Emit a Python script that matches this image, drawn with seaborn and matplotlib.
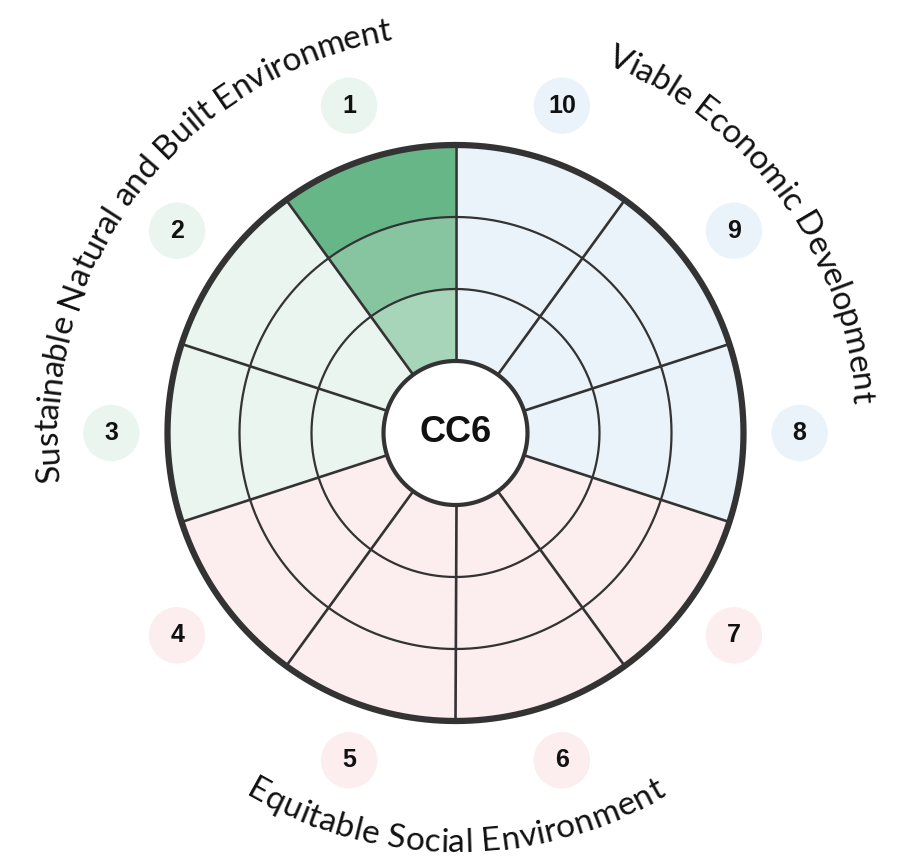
import numpy as np
import seaborn as sns
import matplotlib.pyplot as plt
from matplotlib.font_manager import FontProperties

# wheel data: 10 sectors grouped into three themes, 3 score levels each
sectors = ["1", "2", "3", "4", "5", "6", "7", "8", "9", "10"]
groups = ["env", "env", "env", "soc", "soc", "soc", "soc", "eco", "eco", "eco"]
scores = [3, 0, 0, 0, 0, 0, 0, 0, 0, 0]
levels = [1, 2, 3]
center_label = "CC6"

group_titles = ["Sustainable Natural and Built Environment",
                "Viable Economic Development",
                "Equitable Social Environment"]
title_angles = [143, 36, 270]          # math degrees, centre of each group
title_outward = [True, True, False]

light = {"env": "#ebf5ef", "soc": "#fcedee", "eco": "#ebf3fa"}
shades = {"env": ["#a6d5b9", "#87c5a1", "#66b688"],
          "soc": ["#f5c9cc", "#eea6ab", "#e6828a"],
          "eco": ["#c5dcef", "#9fc4e4", "#78acd8"]}
ink = "#333333"
title_font = ["Lato", "DejaVu Sans"]
num_font = ["Liberation Sans", "DejaVu Sans"]

sns.set_theme(style="white")
plt.rcParams["font.family"] = title_font

fig = plt.figure(figsize=(9.08, 8.66), dpi=100)
ax = fig.add_axes([23.5 / 908, 1 / 866, 864 / 908, 864 / 866], projection="polar")
ax.set_theta_zero_location("N")
ax.set_theta_direction(1)
ax.set_ylim(0, 6)
ax.set_axis_off()

n = len(sectors)
width = 2 * np.pi / n
theta_c = (np.arange(n) + 0.5) * width

# sector cells
for i, (g, s) in enumerate(zip(groups, scores)):
    for lv in levels:
        col = shades[g][lv - 1] if lv <= s else light[g]
        ax.bar(theta_c[i], 1, width=width, bottom=lv, color=col, linewidth=0)

# grid lines
tt = np.linspace(0, 2 * np.pi, 721)
for r in [2, 3]:
    ax.plot(tt, np.full_like(tt, r), color=ink, lw=1.6)
for k in range(n):
    ax.plot([k * width] * 2, [1, 4], color=ink, lw=1.9)
ax.plot(tt, np.full_like(tt, 4), color=ink, lw=4.5)
ax.plot(tt, np.full_like(tt, 1), color=ink, lw=3)

# numbered badges
label_r = 4.78
sns.scatterplot(x=theta_c, y=[label_r] * n, hue=groups, palette=light,
                s=1650, linewidth=0, legend=False, ax=ax, zorder=3)
for t, lab in zip(theta_c, sectors):
    ax.text(t, label_r, lab, ha="center", va="center", fontsize=18,
            fontweight="bold", family=num_font, color="#111111", zorder=4)

ax.text(0, 0, center_label, ha="center", va="center", fontsize=26,
        fontweight="bold", family=num_font, color="#111111")

# curved group titles
renderer = fig.canvas.get_renderer()
px_per_unit = 72.0


def text_w(s, prop):
    bar = renderer.get_text_width_height_descent("|", prop, ismath=False)[0]
    return renderer.get_text_width_height_descent(s + "|", prop, ismath=False)[0] - bar


probe = FontProperties(family=title_font, size=20)
fs = 20 * 625 / text_w(group_titles[0], probe)
prop = FontProperties(family=title_font, size=fs)

r_mid = 408.0
for title, ang, outward in zip(group_titles, title_angles, title_outward):
    total = text_w(title, prop)
    for i, ch in enumerate(title):
        if ch == " ":
            continue
        a = text_w(title[:i], prop) if i else 0.0
        b = text_w(title[:i + 1], prop)
        off = np.degrees(((a + b) / 2 - total / 2) / r_mid)
        if outward:
            phi = ang - off
            rot = phi - 90
            r_base = 398 / px_per_unit
        else:
            phi = ang + off
            rot = phi + 90
            r_base = 419 / px_per_unit
        ax.text(np.radians(phi - 90), r_base, ch, rotation=rot, rotation_mode="anchor",
                ha="center", va="baseline", fontproperties=prop, color="#111111",
                clip_on=False)

plt.savefig("out.png", dpi=100, facecolor="white")
